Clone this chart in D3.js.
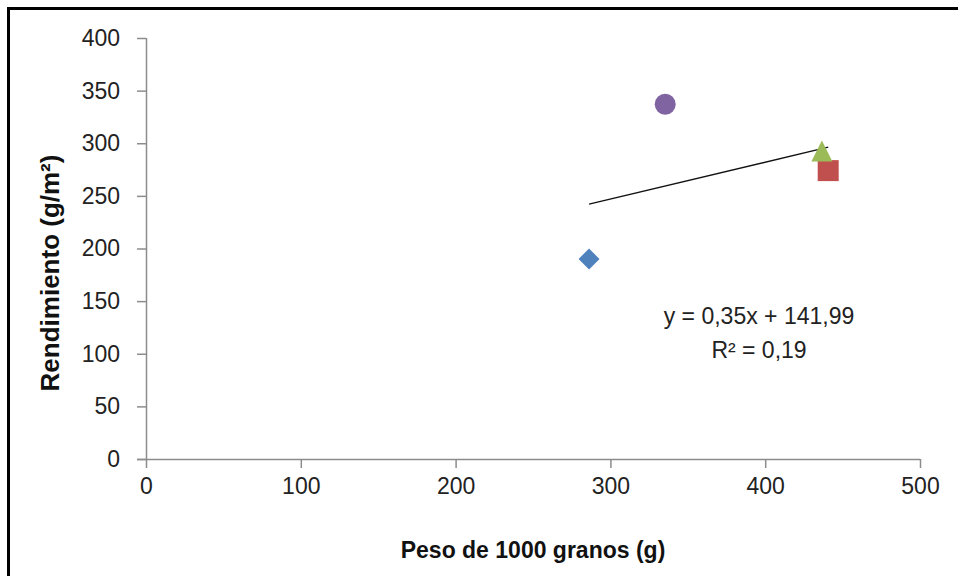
<!DOCTYPE html>
<html>
<head>
<meta charset="utf-8">
<script src="https://cdn.jsdelivr.net/npm/d3@7"></script>
<style>
  body { margin: 0; background: #fff; }
  svg { display: block; }
  text { font-family: "Liberation Sans", Arial, sans-serif; fill: #222; }
</style>
</head>
<body>
<svg id="chart" width="958" height="576"></svg>
<script>
// data
var pesoGranos = [286.2, 440.7, 436.6, 335.4];
var rendimiento = [190, 274, 292.6, 337.1];
var shapes = ["diamond", "square", "triangle", "circle"];
var colors = ["#4F81BD", "#C0504D", "#9BBB59", "#8064A2"];
var xTicks = [0, 100, 200, 300, 400, 500];
var yTicks = [0, 50, 100, 150, 200, 250, 300, 350, 400];
var slope = 0.35, intercept = 141.99;
var eqLines = ["y = 0,35x + 141,99", "R² = 0,19"];

var svg = d3.select("#chart");
var width = 958, height = 576;

// outer frame (cut off on the right and bottom)
svg.append("rect")
    .attr("x", 8.5).attr("y", 8.5)
    .attr("width", width).attr("height", height)
    .style("fill", "none")
    .style("stroke", "#000")
    .style("stroke-width", 3);

var x = d3.scaleLinear().domain([0, 500]).range([146, 920]);
var y = d3.scaleLinear().domain([0, 400]).range([459, 38]);

var axisColor = "#8c8c8c";

// x axis
var gx = svg.append("g")
    .attr("transform", "translate(0," + y(0) + ")")
    .call(d3.axisBottom(x).tickValues(xTicks).tickSize(9).tickPadding(10).tickFormat(d3.format("d")));
gx.select(".domain").attr("d", "M" + (x(0) - 9) + ",0.5H" + x(500));

// y axis
var gy = svg.append("g")
    .attr("transform", "translate(" + x(0) + ",0)")
    .call(d3.axisLeft(y).tickValues(yTicks).tickSize(9).tickPadding(17).tickFormat(d3.format("d")));
gy.select(".domain").attr("d", "M0.5," + y(400) + "V" + y(0));

svg.selectAll(".domain").style("stroke", axisColor).style("stroke-width", 1.5);
svg.selectAll(".tick line").style("stroke", axisColor).style("stroke-width", 1.5);
svg.selectAll(".tick text")
    .style("font-family", "'Liberation Sans', Arial, sans-serif")
    .style("font-size", "23px")
    .style("fill", "#222");

// trend line
var xMin = d3.min(pesoGranos), xMax = d3.max(pesoGranos);
svg.append("line")
    .attr("x1", x(xMin)).attr("y1", y(slope * xMin + intercept))
    .attr("x2", x(xMax)).attr("y2", y(slope * xMax + intercept))
    .style("stroke", "#111")
    .style("stroke-width", 1.3);

// markers, ~21px like excel's
function markerPath(shape) {
    var p = d3.path(), r = 10.5;
    if (shape == "diamond") {
        p.moveTo(0, -r); p.lineTo(r, 0); p.lineTo(0, r); p.lineTo(-r, 0); p.closePath();
    } else if (shape == "square") {
        p.rect(-r, -r, 2 * r, 2 * r);
    } else if (shape == "triangle") {
        p.moveTo(0, -r); p.lineTo(r, r); p.lineTo(-r, r); p.closePath();
    } else {
        p.arc(0, 0, r, 0, 2 * Math.PI);
    }
    return p.toString();
}

svg.append("g").selectAll("path")
    .data(pesoGranos)
    .enter().append("path")
    .attr("d", function(d, i) { return markerPath(shapes[i]); })
    .attr("transform", function(d, i) {
        return "translate(" + x(d) + "," + y(rendimiento[i]) + ")";
    })
    .style("fill", function(d, i) { return colors[i]; });

// equation label
svg.append("g").selectAll("text")
    .data(eqLines)
    .enter().append("text")
    .attr("x", 759)
    .attr("y", function(d, i) { return 324 + i * 34; })
    .attr("text-anchor", "middle")
    .style("font-size", "23px")
    .text(function(d) { return d; });

// axis titles
svg.append("text")
    .attr("x", 533).attr("y", 558)
    .attr("text-anchor", "middle")
    .style("font-size", "23px")
    .style("font-weight", "bold")
    .style("fill", "#111")
    .text("Peso de 1000 granos (g)");

svg.append("text")
    .attr("transform", "translate(59,273) rotate(-90)")
    .attr("text-anchor", "middle")
    .style("font-size", "26px")
    .style("font-weight", "bold")
    .style("fill", "#111")
    .text("Rendimiento (g/m²)");
</script>
</body>
</html>
